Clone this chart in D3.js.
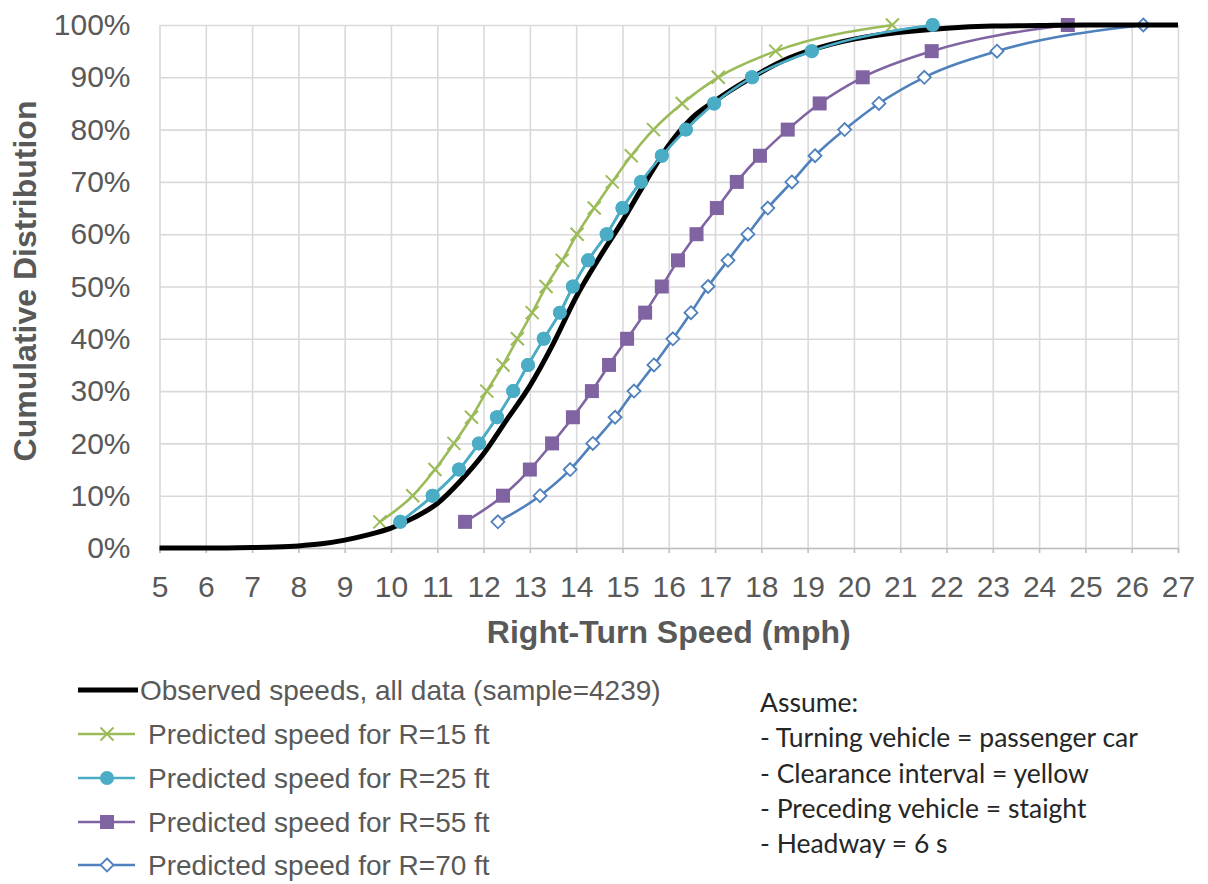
<!DOCTYPE html>
<html>
<head>
<meta charset="utf-8">
<script src="https://cdnjs.cloudflare.com/ajax/libs/d3/7.8.5/d3.min.js"></script>
<style>
  body { margin: 0; background: #ffffff; }
  svg { display: block; }
</style>
</head>
<body>
<div id="graph1"></div>
<script>
// tick labels
var xTicks = [5, 6, 7, 8, 9, 10, 11, 12, 13, 14, 15, 16, 17, 18, 19, 20, 21, 22, 23, 24, 25, 26, 27];
var yTicks = [0, 0.1, 0.2, 0.3, 0.4, 0.5, 0.6, 0.7, 0.8, 0.9, 1.0];

// observed cumulative distribution (speed, share)
var obsSpeed = [5, 6, 7, 7.5, 8, 8.5, 9, 9.5, 10, 10.5, 11, 11.5, 12, 12.5, 13, 13.5, 14, 14.5, 15, 15.5, 16, 16.5, 17, 17.5, 18, 18.5, 19, 19.5, 20, 21, 22, 23, 24, 25, 27];
var obsShare = [0, 0, 0.001, 0.002, 0.004, 0.008, 0.015, 0.025, 0.038, 0.058, 0.085, 0.128, 0.18, 0.245, 0.31, 0.39, 0.48, 0.555, 0.625, 0.70, 0.77, 0.822, 0.855, 0.884, 0.91, 0.933, 0.95, 0.963, 0.973, 0.986, 0.994, 0.998, 0.999, 1.0, 1.0];

// predicted speeds, one value per 5% step
var predShare = [0.05, 0.10, 0.15, 0.20, 0.25, 0.30, 0.35, 0.40, 0.45, 0.50, 0.55, 0.60, 0.65, 0.70, 0.75, 0.80, 0.85, 0.90, 0.95, 1.00];
var speedR15 = [9.76, 10.47, 10.95, 11.36, 11.74, 12.07, 12.42, 12.73, 13.05, 13.35, 13.70, 14.02, 14.39, 14.78, 15.19, 15.67, 16.29, 17.07, 18.31, 20.83];
var speedR25 = [10.20, 10.90, 11.47, 11.90, 12.29, 12.64, 12.96, 13.30, 13.65, 13.93, 14.26, 14.66, 15.00, 15.40, 15.85, 16.37, 16.98, 17.80, 19.09, 21.70];
var speedR55 = [11.60, 12.42, 13.00, 13.48, 13.93, 14.34, 14.71, 15.10, 15.49, 15.85, 16.20, 16.60, 17.04, 17.47, 17.97, 18.57, 19.26, 20.19, 21.68, 24.62];
var speedR70 = [12.31, 13.22, 13.87, 14.36, 14.84, 15.25, 15.68, 16.09, 16.48, 16.85, 17.28, 17.71, 18.14, 18.66, 19.16, 19.80, 20.54, 21.52, 23.09, 26.25];

var legendLabels = [
  "Observed speeds, all data (sample=4239)",
  "Predicted speed for R=15 ft",
  "Predicted speed for R=25 ft",
  "Predicted speed for R=55 ft",
  "Predicted speed for R=70 ft"
];
var noteLines = [
  "Assume:",
  "- Turning vehicle = passenger car",
  "- Clearance interval = yellow",
  "- Preceding vehicle = staight",
  "- Headway = 6 s"
];

var app = {};

app.init = function(){
  var W = 1208, H = 884;
  var left = 159.5, right = 1178, top = 25, bottom = 548;
  var textColor = "#595959";
  var gridColor = "#d9d9d9";
  var font = "'Liberation Sans', Arial, sans-serif";

  var svg = d3.select("#graph1").append("svg")
      .attr("width", W)
      .attr("height", H);

  var x = d3.scaleLinear().domain([5, 27]).range([left, right]);
  var y = d3.scaleLinear().domain([0, 1]).range([bottom, top]);

  // vertical grid
  svg.append("g")
      .attr("transform", "translate(0," + bottom + ")")
      .call(d3.axisBottom(x).tickValues(xTicks).tickSize(-(bottom - top)).tickFormat(""))
      .call(function(g){ g.select(".domain").remove(); })
      .selectAll("line")
      .attr("stroke", gridColor)
      .attr("stroke-width", 1.6);

  // horizontal grid
  svg.append("g")
      .attr("transform", "translate(" + left + ",0)")
      .call(d3.axisLeft(y).tickValues(yTicks).tickSize(-(right - left)).tickFormat(""))
      .call(function(g){ g.select(".domain").remove(); })
      .selectAll("line")
      .attr("stroke", gridColor)
      .attr("stroke-width", 1.6);

  // x axis line and labels
  var xAxis = svg.append("g")
      .attr("transform", "translate(0," + bottom + ")")
      .call(d3.axisBottom(x).tickValues(xTicks).tickSize(5).tickPadding(23).tickFormat(d3.format("d")));
  xAxis.select(".domain").attr("stroke", "#bfbfbf").attr("stroke-width", 1.6);
  xAxis.selectAll("line").attr("stroke", "#bfbfbf").attr("stroke-width", 1.6);
  xAxis.selectAll("text")
      .attr("font-family", font)
      .attr("font-size", "30px")
      .attr("fill", textColor);

  // y axis labels
  var yAxis = svg.append("g")
      .attr("transform", "translate(" + left + ",0)")
      .call(d3.axisLeft(y).tickValues(yTicks).tickSize(0).tickPadding(29).tickFormat(d3.format(".0%")));
  yAxis.select(".domain").remove();
  yAxis.selectAll("text")
      .attr("font-family", font)
      .attr("font-size", "30px")
      .attr("fill", textColor);

  // axis titles
  svg.append("text")
      .attr("x", (left + right) / 2)
      .attr("y", 643)
      .attr("text-anchor", "middle")
      .attr("font-family", font)
      .attr("font-size", "32px")
      .attr("font-weight", "bold")
      .attr("fill", textColor)
      .text("Right-Turn Speed (mph)");

  svg.append("text")
      .attr("transform", "translate(36," + 281 + ") rotate(-90)")
      .attr("text-anchor", "middle")
      .attr("font-family", font)
      .attr("font-size", "32px")
      .attr("font-weight", "bold")
      .attr("fill", textColor)
      .text("Cumulative Distribution");

  var series = [
    { speeds: speedR15, color: "#9bbb59", marker: "x" },
    { speeds: speedR25, color: "#4bacc6", marker: "circle" },
    { speeds: speedR55, color: "#8064a2", marker: "square" },
    { speeds: speedR70, color: "#4f81bd", marker: "diamond" }
  ];

  var line = d3.line()
      .x(function(d){ return x(d[0]); })
      .y(function(d){ return y(d[1]); })
      .curve(d3.curveMonotoneX);

  var plot = svg.append("g");

  series.forEach(function(s){
    var pts = s.speeds.map(function(v, i){ return [v, predShare[i]]; });
    plot.append("path")
        .datum(pts)
        .attr("fill", "none")
        .attr("stroke", s.color)
        .attr("stroke-width", 2.6)
        .attr("d", line);
    pts.forEach(function(p){
      app.marker(plot, s.marker, s.color, x(p[0]), y(p[1]));
    });
  });

  var obs = obsSpeed.map(function(v, i){ return [v, obsShare[i]]; });
  plot.append("path")
      .datum(obs)
      .attr("fill", "none")
      .attr("stroke", "#000000")
      .attr("stroke-width", 5)
      .attr("stroke-linejoin", "round")
      .attr("d", line);

  // redraw R=25 on top where it overlaps observed, as in the source
  var r25 = series[1];
  var pts25 = r25.speeds.map(function(v, i){ return [v, predShare[i]]; });
  plot.append("path")
      .datum(pts25)
      .attr("fill", "none")
      .attr("stroke", r25.color)
      .attr("stroke-width", 2.6)
      .attr("d", line);
  pts25.forEach(function(p){
    app.marker(plot, r25.marker, r25.color, x(p[0]), y(p[1]));
  });

  // legend
  var rowY = [690, 734, 778, 822, 865];
  legendLabels.forEach(function(label, i){
    var ly = rowY[i];
    if (i === 0) {
      svg.append("line")
          .attr("x1", 78).attr("x2", 138)
          .attr("y1", ly).attr("y2", ly)
          .attr("stroke", "#000")
          .attr("stroke-width", 5);
    } else {
      var s = series[i - 1];
      svg.append("line")
          .attr("x1", 78).attr("x2", 135)
          .attr("y1", ly).attr("y2", ly)
          .attr("stroke", s.color)
          .attr("stroke-width", 2.6);
      app.marker(svg, s.marker, s.color, 107, ly);
    }
    svg.append("text")
        .attr("x", i === 0 ? 140 : 148)
        .attr("y", ly + 10)
        .attr("font-family", font)
        .attr("font-size", "28px")
        .attr("fill", textColor)
        .text(label);
  });

  // assumptions note
  var noteY = [712, 747, 783, 818, 853];
  noteLines.forEach(function(t, i){
    svg.append("text")
        .attr("x", 760)
        .attr("y", noteY[i])
        .attr("font-family", "Lato, 'Open Sans', sans-serif")
        .attr("font-size", "26.5px")
        .attr("fill", "#262626")
        .text(t);
  });
};

app.marker = function(g, type, color, cx, cy){
  if (type === "x") {
    var r = 6.5;
    g.append("path")
        .attr("d", "M" + (cx - r) + "," + (cy - r) + "L" + (cx + r) + "," + (cy + r) +
                   "M" + (cx - r) + "," + (cy + r) + "L" + (cx + r) + "," + (cy - r))
        .attr("stroke", color)
        .attr("stroke-width", 2);
  } else if (type === "circle") {
    g.append("circle")
        .attr("cx", cx).attr("cy", cy).attr("r", 7)
        .attr("fill", color);
  } else if (type === "square") {
    g.append("rect")
        .attr("x", cx - 7).attr("y", cy - 7)
        .attr("width", 14).attr("height", 14)
        .attr("fill", color);
  } else {
    var d = 6.5;
    g.append("path")
        .attr("d", "M" + cx + "," + (cy - d) + "L" + (cx + d) + "," + cy + "L" + cx + "," + (cy + d) + "L" + (cx - d) + "," + cy + "Z")
        .attr("fill", "#ffffff")
        .attr("stroke", color)
        .attr("stroke-width", 1.8);
  }
};

app.init();
</script>
</body>
</html>
